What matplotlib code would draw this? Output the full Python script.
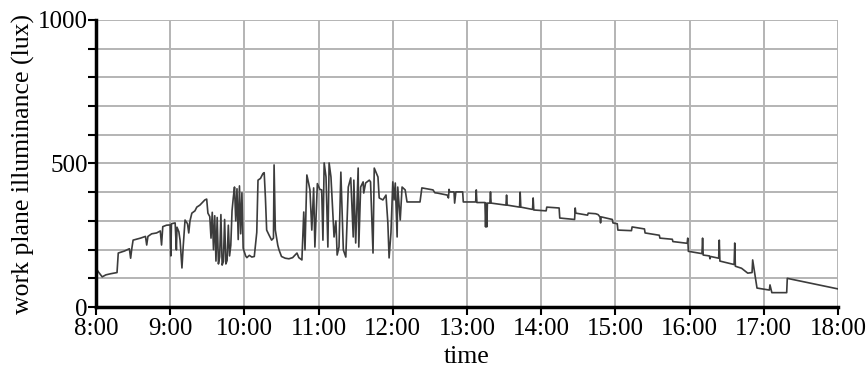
import matplotlib
matplotlib.use("Agg")
import matplotlib.pyplot as plt

# minutes after 8:00 and work plane illuminance (lux)
minutes = [0, 2, 5, 8, 12, 17, 18, 23, 27, 28, 29, 30, 36, 40, 41, 42, 45, 49, 52, 53, 54, 57, 60, 60.5, 61, 64, 65, 65.5, 67, 68, 69.5, 70.5, 72, 74, 75, 76, 77.5, 80, 81.5, 84, 88, 89.5, 90.5,
           92, 93, 94, 95, 96, 97, 98, 99, 100, 101, 102, 103, 104, 105, 106, 107, 108, 109, 110, 111, 112, 113, 114, 115, 116, 117, 118, 119, 120, 121, 122, 124, 126, 128, 130, 131, 133, 135, 136, 137, 138, 140, 142, 143.5, 144, 145, 147, 148, 150, 153, 156, 159, 162.5, 164, 166.5, 168, 169, 170.5, 172, 173, 174.5, 176, 177, 179, 181, 182.5,
           183.5, 184.5, 186, 187.5, 188.5, 190, 192.5, 194, 195, 196.5, 198, 200, 202, 204, 206, 208, 208.5, 210, 212, 212.5, 214, 216, 216.5, 218, 221, 222, 224, 225, 228, 229, 232, 234.5, 236, 237, 238.5, 240, 241, 242, 243.5, 244, 246, 247.5, 250, 251.5,
           262, 263.5, 272.5, 274, 276, 284, 285, 285.5, 286, 289.5, 290, 291, 296.5, 297, 307, 307.5, 308, 314.5, 315, 315.5, 316, 316.5, 318.5, 319, 319.5, 331.5, 332, 332.5, 342.5, 343, 343.5, 353, 353.5, 354, 364, 364.5, 374.5, 375, 387, 387.5, 388, 397.5, 398, 404, 406, 407.5, 408, 408.5,
           417.5, 418, 421.5, 422, 433, 433.5, 443.5, 444, 455.5, 456, 466, 466.5, 478, 478.5, 479, 490, 490.5, 491, 496, 496.5, 497, 503.5, 504, 504.5, 516, 516.5, 517, 522, 527, 530.5, 531, 534.5, 544.5, 545, 546.5, 558.5, 559, 561, 600]
lux = [135, 122, 105, 112, 116, 120, 188, 195, 203, 170, 205, 233, 240, 246, 216, 246, 255, 258, 265, 216, 280, 285, 286, 178, 290, 293, 199, 278, 262, 232, 136, 210, 303, 290, 258, 300, 327, 335, 348, 355, 373, 376, 327,
       315, 240, 330, 200, 318, 160, 312, 150, 175, 322, 146, 158, 305, 150, 162, 285, 178, 215, 335, 380, 418, 300, 412, 235, 422, 255, 398, 205, 192, 178, 172, 180, 174, 176, 260, 442, 448, 465, 468, 380, 268, 250, 233, 240, 495, 268, 215, 199, 176, 170, 168, 172, 188, 172, 164, 331, 199, 460, 430, 408, 268, 415, 209, 430, 410, 408,
       233, 502, 453, 209, 502, 453, 244, 300, 181, 209, 470, 199, 174, 418, 450, 244, 442, 223, 484, 209, 418, 436, 397, 432, 442, 436, 188, 484, 453, 380, 373, 390, 293, 171, 258, 436, 373, 432, 244, 418, 303, 418, 408, 366,
       366, 415, 408, 398, 397, 390, 380, 410, 401, 401, 362, 401, 401, 366, 366, 408, 364, 364, 279, 362, 279, 362, 362, 401, 362, 355, 390, 355, 348, 400, 348, 340, 380, 338, 335, 348, 345, 310, 305, 345, 327, 320, 327, 325, 322, 314, 293, 314,
       305, 293, 290, 268, 266, 279, 272, 258, 250, 240, 236, 228, 222, 240, 194, 186, 240, 181, 178, 168, 176, 170, 233, 160, 148, 223, 142, 135, 118, 120, 164, 66, 59, 77, 50, 50, 100, 98, 63]

hour_labels = ["8:00", "9:00", "10:00", "11:00", "12:00", "13:00", "14:00", "15:00", "16:00", "17:00", "18:00"]
y_ticks = [0, 100, 200, 300, 400, 500, 600, 700, 800, 900, 1000]
y_labels = ["0", "", "", "", "", "500", "", "", "", "", "1000"]

plt.rcParams['font.family'] = ['Liberation Serif', 'DejaVu Serif']

fig = plt.figure(figsize=(8.66, 3.74), dpi=100)
ax = fig.add_axes([96/866, 67/374, 742/866, 287/374])

ax.plot(minutes, lux, color='#3c3c3c', linewidth=1.2, zorder=3)

ax.set_xlim(0, 600)
ax.set_ylim(0, 1000)
ax.set_xticks([60 * i for i in range(len(hour_labels))])
ax.set_xticklabels(hour_labels)
ax.set_yticks(y_ticks)
ax.set_yticklabels(y_labels)

ax.grid(True, color='#b4b4b4', linewidth=1.4, zorder=0)
for s in ['top', 'right']:
    ax.spines[s].set_visible(False)
for s in ['left', 'bottom']:
    ax.spines[s].set_linewidth(2.5)
    ax.spines[s].set_color('black')
    ax.spines[s].set_zorder(4)

ax.tick_params(axis='both', direction='out', length=6, width=1.5, labelsize=18, colors='black')
ax.tick_params(axis='y', pad=0)
ax.tick_params(axis='x', pad=2)
ax.set_xlabel("time", fontsize=18.5, labelpad=4)
ax.set_ylabel("work plane illuminance (lux)", fontsize=18.5, labelpad=2)

fig.savefig("out.png", dpi=100)
